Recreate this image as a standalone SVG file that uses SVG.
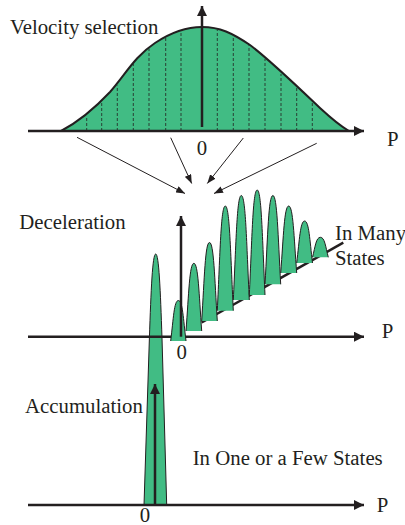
<svg xmlns="http://www.w3.org/2000/svg" width="405" height="525" viewBox="0 0 405 525">
<defs>
<style>
.txt{font-family:"Liberation Serif","Times New Roman",serif;font-size:20.8px;fill:#231f20}
.mid{text-anchor:middle}
.axis{stroke:#231f20;stroke-width:2.5;fill:none}
.thin{stroke:#231f20;stroke-width:1;fill:none}
.pk{fill:#41bc84;stroke:#231f20;stroke-width:1}
.dash{stroke:#231f20;stroke-width:0.8;stroke-dasharray:3 2}
</style>
<marker id="ah" markerUnits="userSpaceOnUse" markerWidth="10" markerHeight="10" refX="10" refY="5" orient="auto">
<path d="M0,0 L10,5 L0,10 z" fill="#231f20"/>
</marker>
<marker id="ahs" markerUnits="userSpaceOnUse" markerWidth="9" markerHeight="7" refX="9" refY="3.5" orient="auto">
<path d="M0,0 L9,3.5 L0,7 z" fill="#231f20"/>
</marker>
</defs>
<rect width="405" height="525" fill="#ffffff"/>

<g id="velocity-distribution">
<path d="M61,131 C80,121 95,108 110,92 C125,75 135,56 155,43 C170,33 185,27 202,27 C220,27 232,33 250,45 C270,60 300,89 320,108 C333,120 342,127 349,131 Z" fill="#41bc84"/>
<g class="dash">
<line x1="86.7" y1="131" x2="86.7" y2="116"/>
<line x1="101.7" y1="131" x2="101.7" y2="101.5"/>
<line x1="117.3" y1="131" x2="117.3" y2="85.5"/>
<line x1="133.3" y1="131" x2="133.3" y2="64"/>
<line x1="149" y1="131" x2="149" y2="48.5"/>
<line x1="165.7" y1="131" x2="165.7" y2="37"/>
<line x1="181" y1="131" x2="181" y2="31.5"/>
<line x1="217.3" y1="131" x2="217.3" y2="30"/>
<line x1="233.3" y1="131" x2="233.3" y2="36"/>
<line x1="249" y1="131" x2="249" y2="45"/>
<line x1="265" y1="131" x2="265" y2="59"/>
<line x1="281" y1="131" x2="281" y2="74"/>
<line x1="296.7" y1="131" x2="296.7" y2="88"/>
<line x1="312.3" y1="131" x2="312.3" y2="102.5"/>
</g>
<path d="M61,131 C80,121 95,108 110,92 C125,75 135,56 155,43 C170,33 185,27 202,27 C220,27 232,33 250,45 C270,60 300,89 320,108 C333,120 342,127 349,131" fill="none" stroke="#231f20" stroke-width="2"/>
</g>

<g id="top-axes">
<line class="axis" x1="28" y1="131" x2="364" y2="131" marker-end="url(#ah)"/>
<line class="axis" x1="202" y1="127" x2="202" y2="6" marker-end="url(#ah)"/>
</g>

<g id="labels">
<text class="txt" x="10" y="34.3">Velocity selection</text>
<text class="txt" x="387" y="145.7">P</text>
<text class="txt mid" x="202" y="155">0</text>
<text class="txt" x="19.3" y="229.3">Deceleration</text>
<text class="txt" x="335" y="240">In Many</text>
<text class="txt" x="335" y="265">States</text>
<text class="txt" x="381.7" y="338.3">P</text>
<text class="txt mid" x="181.7" y="359.3">0</text>
<text class="txt" x="25" y="412.7">Accumulation</text>
<text class="txt" x="192.7" y="465">In One or a Few States</text>
<text class="txt" x="376.7" y="511.7">P</text>
<text class="txt mid" x="145" y="521.5">0</text>
</g>

<g id="connectors">
<line class="thin" x1="77" y1="137.3" x2="185" y2="193.5" marker-end="url(#ahs)"/>
<line class="thin" x1="170.7" y1="137.7" x2="191.7" y2="183.5" marker-end="url(#ahs)"/>
<line class="thin" x1="243.3" y1="138" x2="207.3" y2="183.5" marker-end="url(#ahs)"/>
<line class="thin" x1="316.7" y1="143.3" x2="214" y2="193.5" marker-end="url(#ahs)"/>
</g>

<g id="accumulation-peak">
<path class="pk" d="M144,505 L149.4,338 C151,290 152.5,254 155.7,254 C158.9,254 160.4,290 162,338 L166.7,505"/>
</g>

<g id="middle-axis">
<line class="axis" x1="28" y1="336.7" x2="364" y2="336.7" marker-end="url(#ah)"/>
</g>

<g id="deceleration-peaks">
<line class="axis" x1="201.7" y1="322.5" x2="343.3" y2="242.7"/>
<path class="pk" d="M170.7,341 C173.4,318.7 174.1,300.5 178.4,300.5 C182.6,300.5 183.3,318.7 186,341"/>
<path class="pk" d="M186,331 C188.8,293.8 189.5,263.3 193.9,263.3 C198.2,263.3 199,293.8 201.7,331"/>
<path class="pk" d="M201.7,321 C204.4,277.8 205.2,242.5 209.5,242.5 C213.8,242.5 214.6,277.8 217.3,321"/>
<path class="pk" d="M217.3,310.7 C220.1,253.1 220.9,206 225.3,206 C229.7,206 230.5,253.1 233.3,310.7"/>
<path class="pk" d="M233.3,300 C236.1,242.5 236.9,195.5 241.3,195.5 C245.7,195.5 246.5,242.5 249.3,300"/>
<path class="pk" d="M249.3,295 C252.1,237.3 252.8,190 257.2,190 C261.5,190 262.3,237.3 265,295"/>
<path class="pk" d="M265,284.3 C267.8,235.5 268.5,195.5 272.9,195.5 C277.2,195.5 278,235.5 280.7,284.3"/>
<path class="pk" d="M280.7,273 C283.5,236.1 284.3,206 288.7,206 C293.1,206 293.9,236.1 296.7,273"/>
<path class="pk" d="M296.7,263 C299.5,239.9 300.3,221 304.6,221 C309,221 309.7,239.9 312.5,263"/>
<path class="pk" d="M312.5,257.3 C315.3,246.3 316.1,237.3 320.4,237.3 C324.7,237.3 325.5,246.3 328.3,257.3"/>
</g>

<g id="middle-vertical-axis">
<line class="axis" x1="181" y1="336.7" x2="181" y2="216" marker-end="url(#ah)"/>
</g>

<g id="bottom-axes">
<line class="axis" x1="28" y1="505" x2="364" y2="505" marker-end="url(#ah)"/>
<line class="axis" x1="155" y1="505" x2="155" y2="384" stroke-width="2" marker-end="url(#ah)"/>
</g>
</svg>
